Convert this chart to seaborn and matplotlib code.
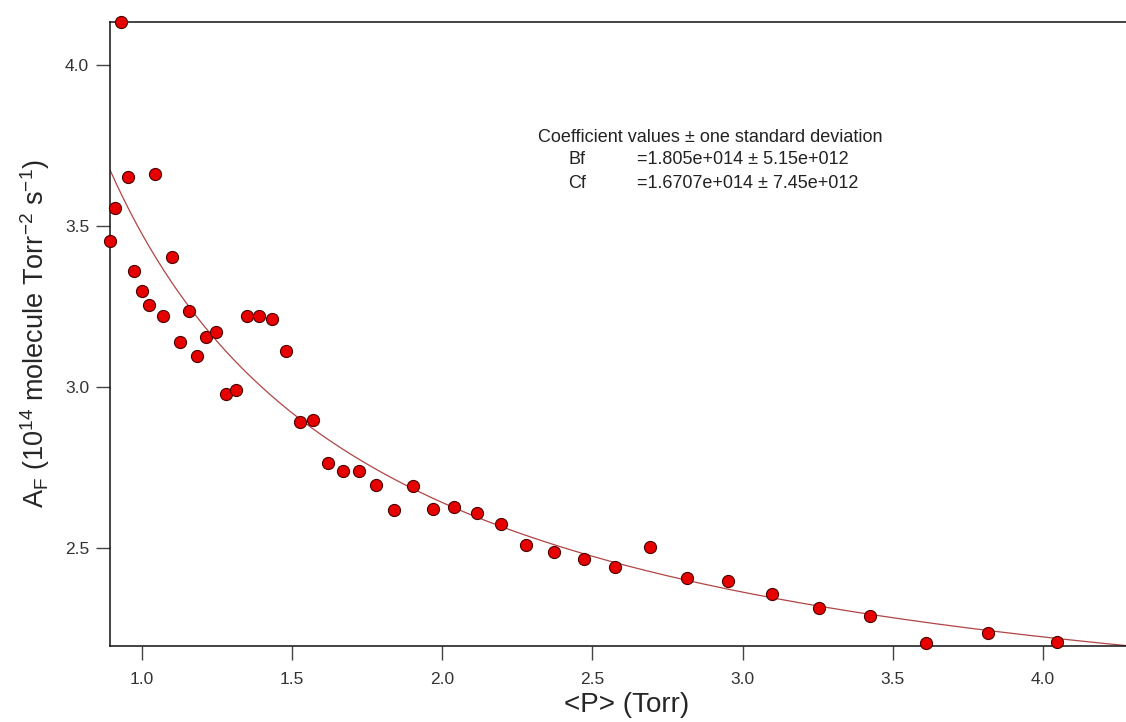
import matplotlib
matplotlib.use("Agg")
import matplotlib.pyplot as plt
import numpy as np
import pandas as pd
import seaborn as sns

# Data (pressure in Torr, A_F in 1e14 units)
pressure = [0.894, 0.911, 0.931, 0.954, 1.045, 0.975, 1.000, 1.023, 1.071, 1.099,
            1.157, 1.127, 1.184, 1.215, 1.248, 1.281, 1.314, 1.351, 1.391, 1.434,
            1.480, 1.525, 1.570, 1.621, 1.670, 1.724, 1.781, 1.839, 1.903, 1.968,
            2.038, 2.115, 2.195, 2.280, 2.372, 2.472, 2.574, 2.690, 2.816, 2.950,
            3.096, 3.253, 3.425, 3.611, 3.818, 4.046]
a_f = [3.454, 3.555, 4.135, 3.651, 3.662, 3.361, 3.299, 3.254, 3.220, 3.404,
       3.236, 3.138, 3.096, 3.154, 3.171, 2.978, 2.990, 3.221, 3.220, 3.211,
       3.111, 2.891, 2.898, 2.763, 2.738, 2.738, 2.694, 2.616, 2.691, 2.619,
       2.626, 2.609, 2.573, 2.508, 2.487, 2.465, 2.439, 2.503, 2.407, 2.397,
       2.357, 2.314, 2.289, 2.203, 2.234, 2.206]

# Fit coefficients (units of 1e14): A_F = Bf + Cf / P
bf = 1.805
cf = 1.6707
x_limits = [0.894, 4.276]
y_limits = [2.1945, 4.1346]
x_ticks = [1.0, 1.5, 2.0, 2.5, 3.0, 3.5, 4.0]
y_ticks = [2.5, 3.0, 3.5, 4.0]

sns.set_style("white")
plt.rcParams['font.family'] = ['Liberation Sans', 'DejaVu Sans']
plt.rcParams['mathtext.fontset'] = 'custom'
plt.rcParams['mathtext.rm'] = 'Liberation Sans'
plt.rcParams['mathtext.it'] = 'Liberation Sans'

fig = plt.figure(figsize=(11.26, 7.22), dpi=100)
ax = fig.add_axes([110 / 1126, 1 - 646 / 722, 1 - 110 / 1126, (646 - 21.7) / 722])

df = pd.DataFrame({"P": pressure, "A": a_f})
p_fit = np.linspace(x_limits[0], x_limits[1], 300)
fit_df = pd.DataFrame({"P": p_fit, "A": bf + cf / p_fit})

sns.lineplot(data=fit_df, x="P", y="A", ax=ax, color="#b04545", linewidth=0.9,
             zorder=2)
sns.scatterplot(data=df, x="P", y="A", ax=ax, s=76, color="#e60000",
                edgecolor="#4a0000", linewidth=0.8, zorder=3, clip_on=False)

ax.set_xlim(x_limits)
ax.set_ylim(y_limits)
ax.set_xticks(x_ticks)
ax.set_yticks(y_ticks)
ax.set_xticklabels([f"{v:.1f}" for v in x_ticks])
ax.set_yticklabels([f"{v:.1f}" for v in y_ticks])

for side in ["left", "bottom", "top"]:
    ax.spines[side].set_visible(True)
    ax.spines[side].set_color("#111111")
    ax.spines[side].set_linewidth(1.1)
ax.spines["right"].set_visible(False)

ax.tick_params(axis="both", direction="out", length=10, width=1.0,
               color="#444444", labelsize=12.5, labelcolor="#333333", pad=5,
               left=True, bottom=True)
ax.tick_params(axis="x", pad=8.5)

ax.set_xlabel("<P> (Torr)", fontsize=20)
ax.xaxis.set_label_coords(0.508, -0.073)
ax.set_ylabel(r"A$_\mathregular{F}$ (10$^\mathregular{14}$ molecule Torr$^\mathregular{-2}$ s$^\mathregular{-1}$)",
              fontsize=19.5)
ax.yaxis.set_label_coords(-0.057, 0.5)

txt_kw = dict(transform=ax.transData, fontsize=13, color="#222222")


def px_to_data(px, py):
    return 1 + (px - 141.7) / 300.3, 4.0 - (py - 65) / 321.8


x0, y0 = px_to_data(710, 137)
ax.text(x0, y0, "Coefficient values ± one standard deviation",
        ha="center", va="center", **txt_kw)
xb, yb = px_to_data(568, 159)
ax.text(xb, yb, "Bf", ha="left", va="center", **txt_kw)
xe, _ = px_to_data(637, 159)
ax.text(xe, yb, "=1.805e+014 ± 5.15e+012", ha="left", va="center", **txt_kw)
_, yc = px_to_data(568, 183)
ax.text(xb, yc, "Cf", ha="left", va="center", **txt_kw)
ax.text(xe, yc, "=1.6707e+014 ± 7.45e+012", ha="left", va="center", **txt_kw)

fig.savefig("out.png", dpi=100)
